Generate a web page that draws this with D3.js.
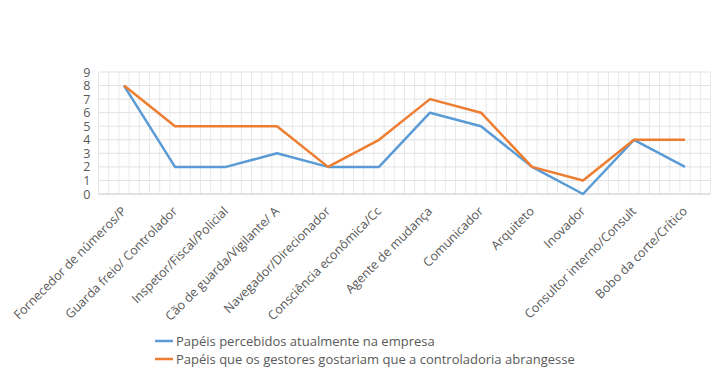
<!DOCTYPE html>
<html><head><meta charset="utf-8">
<script src="https://cdn.jsdelivr.net/npm/d3@7"></script>
<style>body{margin:0;background:#fff}svg{display:block}</style>
</head><body>
<script>
const categories = ["Fornecedor de números/P","Guarda freio/ Controlador","Inspetor/Fiscal/Policial","Cão de guarda/Vigilante/ A","Navegador/Direcionador","Consciência econômica/Cc","Agente de mudança","Comunicador","Arquiteto","Inovador","Consultor interno/Consult","Bobo da corte/Crítico"];
const seriesNames = ["Papéis percebidos atualmente na empresa","Papéis que os gestores gostariam que a controladoria abrangesse"];
const atual = [8,2,2,3,2,2,6,5,2,0,4,2];
const desejado = [8,5,5,5,2,4,7,6,2,1,4,4];
const yTicks = [0,1,2,3,4,5,6,7,8,9];
const colors = ["#5B9BD5","#ED7D31"];

const W=724,H=375;
const m={l:98.5,r:13.5,t:72,b:181};
const svg=d3.select("body").append("svg").attr("width",W).attr("height",H);
const x=d3.scaleBand().domain(categories).range([m.l,W-m.r]);
const y=d3.scaleLinear().domain([0,9]).range([H-m.b,m.t]);
const font="'Open Sans', sans-serif";

const g=svg.append("g");
const nMinor=5;
const vx=[];
categories.forEach(c=>{for(let i=0;i<nMinor;i++)vx.push(x(c)+i*x.bandwidth()/nMinor);});
vx.push(W-m.r);
g.selectAll("line.v").data(vx).join("line").attr("x1",d=>d).attr("x2",d=>d)
 .attr("y1",y(9)).attr("y2",y(0)).attr("stroke","#e8e8e8").attr("stroke-width",1);
g.selectAll("line.h").data(yTicks).join("line").attr("x1",m.l).attr("x2",W-m.r)
 .attr("y1",d=>y(d)).attr("y2",d=>y(d)).attr("stroke",d=>d===0?"#d9d9d9":"#e2e2e2").attr("stroke-width",d=>d===0?1.5:1);

const ya=svg.append("g").attr("transform",`translate(${m.l-8},0)`).call(d3.axisLeft(y).tickValues(yTicks).tickSize(0).tickPadding(0));
ya.select(".domain").remove();
ya.selectAll("text").attr("font-family",font).attr("font-size",12.5).attr("fill","#595959");

svg.append("g").selectAll("text").data(categories).join("text")
 .attr("transform",d=>`translate(${x(d)+x.bandwidth()/2+3},${y(0)+18}) rotate(-45)`)
 .attr("text-anchor","end").attr("font-family",font).attr("font-size",12.5).attr("fill","#595959").text(d=>d);

const line=d3.line().x((d,i)=>x(categories[i])+x.bandwidth()/2).y(d=>y(d));
[atual,desejado].forEach((s,i)=>{
 svg.append("path").datum(s).attr("d",line).attr("fill","none").attr("stroke",colors[i]).attr("stroke-width",2.5).attr("stroke-linejoin","round");
});

const lg=svg.append("g");
seriesNames.forEach((n,i)=>{
 const yy=341+i*18;
 lg.append("line").attr("x1",155).attr("x2",173).attr("y1",yy).attr("y2",yy).attr("stroke",colors[i]).attr("stroke-width",2.5);
 lg.append("text").attr("x",176).attr("y",yy+4.5).attr("font-family",font).attr("font-size",13).attr("fill","#595959").text(n);
});
</script>
</body></html>
